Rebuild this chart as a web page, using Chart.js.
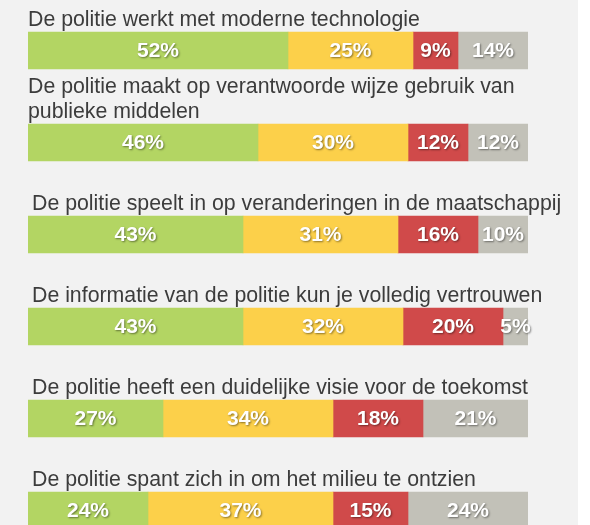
<!DOCTYPE html>
<html>
<head>
<meta charset="utf-8">
<script src="https://cdn.jsdelivr.net/npm/chart.js@4"></script>
<style>
  html, body { margin: 0; padding: 0; background: #ffffff; overflow: hidden; }
  #wrap { width: 590px; height: 560px; }
</style>
</head>
<body>
<div id="wrap"><canvas id="chart" width="590" height="560"></canvas></div>
<script>
// Statements (multi-line entries are wrapped as in the original)
const statements = [
  ["De politie werkt met moderne technologie"],
  ["De politie maakt op verantwoorde wijze gebruik van", "publieke middelen"],
  ["De politie speelt in op veranderingen in de maatschappij"],
  ["De informatie van de politie kun je volledig vertrouwen"],
  ["De politie heeft een duidelijke visie voor de toekomst"],
  ["De politie spant zich in om het milieu te ontzien"]
];

// Answer shares in percent
const eens = [52, 46, 43, 43, 27, 24];
const neutraal = [25, 30, 31, 32, 34, 37];
const oneens = [9, 12, 16, 20, 18, 15];
const weetNiet = [14, 12, 10, 5, 21, 24];

const seriesNames = ["Eens", "Neutraal", "Oneens", "Weet niet"];
const seriesColors = ["#b3d563", "#fcd04a", "#d04a4a", "#c2c1b8"];

const FONT = "'Liberation Sans', Arial, sans-serif";
const BAR_H = 37;

// Light grey panel behind the chart
const panelBg = {
  id: "panelBg",
  beforeDraw(chart) {
    const ctx = chart.ctx;
    ctx.save();
    ctx.fillStyle = "#f2f2f2";
    ctx.fillRect(0, 0, 578, chart.height);
    ctx.restore();
  }
};

// Statement text above each bar
const statementLabels = {
  id: "statementLabels",
  afterDatasetsDraw(chart) {
    const ctx = chart.ctx;
    const y = chart.scales.y;
    ctx.save();
    ctx.font = "21.3px " + FONT;
    ctx.fillStyle = "#3c3c3c";
    ctx.textAlign = "left";
    ctx.textBaseline = "alphabetic";
    statements.forEach((lines, i) => {
      const top = y.getPixelForValue(i) - BAR_H / 2;
      const x = i < 2 ? 28 : 32;
      lines.forEach((line, j) => {
        const base = top - 6.5 - (lines.length - 1 - j) * 25;
        ctx.fillText(line, x, base);
      });
    });
    ctx.restore();
  }
};

// Percentages inside the segments
const valueLabels = {
  id: "valueLabels",
  afterDatasetsDraw(chart) {
    const ctx = chart.ctx;
    ctx.save();
    ctx.font = "bold 21px " + FONT;
    ctx.fillStyle = "#ffffff";
    ctx.textAlign = "center";
    ctx.textBaseline = "middle";
    ctx.shadowColor = "rgba(0,0,0,0.45)";
    ctx.shadowOffsetX = 1;
    ctx.shadowOffsetY = 1;
    ctx.shadowBlur = 2;
    chart.data.datasets.forEach((ds, d) => {
      const meta = chart.getDatasetMeta(d);
      meta.data.forEach((bar, i) => {
        const cx = (bar.x + bar.base) / 2;
        ctx.fillText(ds.data[i] + "%", cx, bar.y + 1);
      });
    });
    ctx.restore();
  }
};

const seriesData = [eens, neutraal, oneens, weetNiet];

new Chart(document.getElementById("chart"), {
  type: "bar",
  data: {
    labels: statements.map(s => s.join(" ")),
    datasets: seriesData.map((vals, k) => ({
      label: seriesNames[k],
      data: vals,
      backgroundColor: seriesColors[k],
      borderWidth: 0,
      barThickness: BAR_H
    }))
  },
  options: {
    indexAxis: "y",
    responsive: false,
    animation: false,
    layout: { padding: { left: 28, right: 62, top: 4.5, bottom: 3.5 } },
    scales: {
      x: { stacked: true, min: 0, max: 100, display: false },
      y: { stacked: true, display: false }
    },
    plugins: {
      legend: { display: false },
      tooltip: { enabled: false }
    }
  },
  plugins: [panelBg, statementLabels, valueLabels]
});
</script>
</body>
</html>
